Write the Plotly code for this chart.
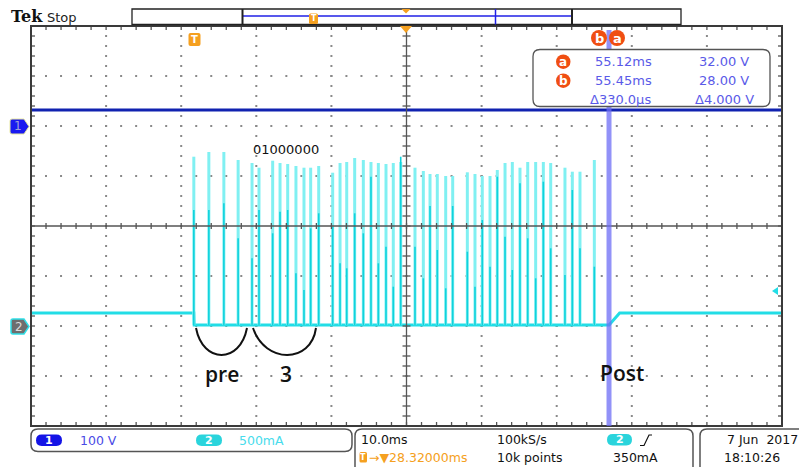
import plotly.graph_objects as go
import numpy as np

# ---------------- data (read from the screen) ----------------
# channel 2 current pulses: time after trigger (ms), peak current (mA), inner (bright core) current (mA)
pulse_t_ms = [0.0, 2.0, 4.0, 5.9, 7.75, 8.68, 10.5, 11.48, 12.5, 13.6, 14.67, 15.56, 16.63,
              18.49, 19.47, 20.36, 21.42, 22.57, 23.59, 24.57, 25.59, 26.56, 27.55, 29.45,
              30.56, 31.45, 32.42, 33.54, 34.47, 36.42, 37.44, 38.41, 39.44, 40.41, 41.44,
              42.41, 43.43, 44.46, 45.52, 46.54, 47.52, 49.42, 50.40, 51.42, 53.33]
pulse_peak_mA = [1693, 1740, 1740, 1660, 1630, 1583, 1653, 1630, 1620, 1600, 1583, 1583, 1600,
                 1533, 1630, 1640, 1680, 1660, 1640, 1630, 1620, 1630, 1640, 1583, 1550,
                 1520, 1520, 1500, 1500, 1537, 1520, 1500, 1500, 1560, 1630, 1640, 1583,
                 1640, 1640, 1640, 1630, 1583, 1543, 1543, 1660]
pulse_core_mA = [1160, 1160, 1227, 877, 677, 1160, 927, 1143, 1160, 527, 360, 977, 1127,
                 993, 627, 577, 1127, 927, 1493, 627, 793, 393, 1693, 793, 477,
                 1200, 760, 377, 1200, 743, 393, 1060, 593, 1493, 893, 560, 1427,
                 877, 477, 1443, 777, 510, 1360, 777, 593]
pre_level_mA = 130
idle_level_mA = 10
post_level_mA = 130
burst_end_ms = 55.3
post_rise_end_ms = 56.7

# channel 1 voltage (flat)
ch1_level_V = 32

# scope settings
time_per_div_ms = 10.0
trig_delay_ms = 28.32
ch1_V_per_div = 100
ch1_offset_div = 2
ch2_mA_per_div = 500
ch2_offset_div = -2
trig_level_mA = 350
cursor_a_ms, cursor_b_ms = 55.12, 55.45

# ---------------- geometry (image pixels) ----------------
IMG_W, IMG_H = 807, 467
BODY = 8                     # page body margin
L, R, T, B = 31, 782, 26, 426
x_left = trig_delay_ms - 5 * time_per_div_ms
x_right = trig_delay_ms + 5 * time_per_div_ms
ms_per_px = (x_right - x_left) / (R - L)
div_per_px = 8.0 / (B - T)

FONT = "DejaVu Sans"


def PX(x):
    return (x - L) / (R - L)


def PY(y):
    return (B - y) / (B - T)


def c1(v):
    return ch1_offset_div + v / ch1_V_per_div


def c2(v):
    return ch2_offset_div + v / ch2_mA_per_div


def p(x, y):
    return f"{PX(x):.5f},{PY(y):.5f}"


def rrect(x0, y0, x1, y1, r):
    return (f"M{p(x0 + r, y0)} L{p(x1 - r, y0)} Q{p(x1, y0)} {p(x1, y0 + r)} "
            f"L{p(x1, y1 - r)} Q{p(x1, y1)} {p(x1 - r, y1)} L{p(x0 + r, y1)} "
            f"Q{p(x0, y1)} {p(x0, y1 - r)} L{p(x0, y0 + r)} Q{p(x0, y0)} {p(x0 + r, y0)} Z")


fig = go.Figure()

# ---------------- graticule dots ----------------
gx, gy = [], []
for k in range(1, 10):
    if k == 5:
        continue
    xv = x_left + k * time_per_div_ms
    for yv in np.arange(-4, 4.001, 0.2):
        gx.append(xv); gy.append(yv)
for yv in [-3, -2, -1, 1, 2, 3]:
    for xv in np.arange(x_left, x_right + 0.001, time_per_div_ms / 5):
        gx.append(xv); gy.append(yv)
fig.add_trace(go.Scatter(x=gx, y=gy, mode="markers",
                         marker=dict(symbol="square", size=2, color="#8a8a8a"),
                         hoverinfo="skip", showlegend=False))

# ---------------- channel 1 ----------------
fig.add_trace(go.Scatter(x=[x_left, x_right], y=[c1(ch1_level_V)] * 2, mode="lines",
                         line=dict(color="#1022b0", width=3), hoverinfo="skip", showlegend=False))

# ---------------- channel 2 ----------------
bx = [x_left, pulse_t_ms[0], pulse_t_ms[0] + 0.05, burst_end_ms, post_rise_end_ms, x_right]
by = [c2(pre_level_mA), c2(pre_level_mA), c2(idle_level_mA), c2(idle_level_mA),
      c2(post_level_mA), c2(post_level_mA)]
fig.add_trace(go.Scatter(x=bx, y=by, mode="lines", line=dict(color="#22dde6", width=3),
                         hoverinfo="skip", showlegend=False))

sx, sy = [], []
for t, pk in zip(pulse_t_ms, pulse_peak_mA):
    sx += [t, t, None]
    sy += [c2(idle_level_mA), c2(pk), None]
fig.add_trace(go.Scatter(x=sx, y=sy, mode="lines", line=dict(color="#80f0f2", width=3),
                         hoverinfo="skip", showlegend=False))
cx, cy = [], []
for t, cv in zip(pulse_t_ms, pulse_core_mA):
    cx += [t, t, None]
    cy += [c2(idle_level_mA), c2(cv), None]
fig.add_trace(go.Scatter(x=cx, y=cy, mode="lines", line=dict(color="#10d2dc", width=1.6),
                         hoverinfo="skip", showlegend=False))

# ---------------- centre cross and frame ticks ----------------
kx, ky = [x_left, x_right, None, trig_delay_ms, trig_delay_ms, None], [0, 0, None, -4, 4, None]
for xv in np.arange(x_left, x_right + 0.001, time_per_div_ms / 5):
    kx += [xv, xv, None]; ky += [-3 * div_per_px, 3 * div_per_px, None]
    kx += [xv, xv, None]; ky += [4, 4 - 4 * div_per_px, None]
    kx += [xv, xv, None]; ky += [-4, -4 + 4 * div_per_px, None]
for yv in np.arange(-4, 4.001, 0.2):
    kx += [trig_delay_ms - 4 * ms_per_px, trig_delay_ms + 4 * ms_per_px, None]; ky += [yv, yv, None]
    kx += [x_left, x_left + 4 * ms_per_px, None]; ky += [yv, yv, None]
    kx += [x_right, x_right - 4 * ms_per_px, None]; ky += [yv, yv, None]
fig.add_trace(go.Scatter(x=kx, y=ky, mode="lines", line=dict(color="#555555", width=1.3),
                         hoverinfo="skip", showlegend=False))

shapes = []
ann = []

# frame
shapes.append(dict(type="rect", xref="paper", yref="paper", x0=0, x1=1, y0=0, y1=1,
                   line=dict(color="#3a3a3a", width=2)))

# cursors
for cv in (cursor_a_ms, cursor_b_ms):
    shapes.append(dict(type="line", xref="x", yref="paper", x0=cv, x1=cv, y0=0, y1=PY(30),
                       line=dict(color="rgba(110,110,245,0.75)", width=2.5)))

# readout box
shapes.append(dict(type="path", xref="paper", yref="paper", path=rrect(533, 49.5, 770, 106.5, 7),
                   fillcolor="white", line=dict(color="#555555", width=1.3)))
RO = "#5a5ae8"
orange_red = "#f04e12"
for (lbl, yy) in (("a", 61.7), ("b", 80.7)):
    shapes.append(dict(type="circle", xref="paper", yref="paper", x0=PX(556), x1=PX(570.5),
                       y0=PY(yy + 7.2), y1=PY(yy - 7.2), fillcolor=orange_red, line=dict(width=0)))
    ann.append(dict(x=PX(563.3), y=PY(yy + 0.5), text=f"<b>{lbl}</b>",
                    font=dict(color="white", size=12, family=FONT)))
rows = [("55.12ms", "32.00 V", 61.7), ("55.45ms", "28.00 V", 80.7), ("Δ330.0µs", "Δ4.000 V", 99.5)]
for i, (a, b, yy) in enumerate(rows):
    ann.append(dict(x=PX(588 if i == 2 else 593), y=PY(yy), text=a, xanchor="left",
                    font=dict(color=RO, size=13, family=FONT)))
    ann.append(dict(x=PX(756 if i == 2 else 751), y=PY(yy), text=b, xanchor="right",
                    font=dict(color=RO, size=13, family=FONT)))

# cursor circles on top
for (lbl, xx) in (("b", 599), ("a", 617)):
    shapes.append(dict(type="circle", xref="paper", yref="paper", x0=PX(xx - 8), x1=PX(xx + 8),
                       y0=PY(46), y1=PY(30), fillcolor=orange_red, line=dict(width=0)))
    ann.append(dict(x=PX(xx), y=PY(38.5), text=f"<b>{lbl}</b>",
                    font=dict(color="white", size=13, family=FONT)))

ORANGE = "#f5a020"
# trigger T in plot
shapes.append(dict(type="path", xref="paper", yref="paper", path=rrect(188.5, 33, 200.5, 46, 2),
                   fillcolor=ORANGE, line=dict(width=0)))
ann.append(dict(x=PX(194.5), y=PY(39.5), text="<b>T</b>", font=dict(color="white", size=10, family=FONT)))
# centre orange triangle
shapes.append(dict(type="path", xref="paper", yref="paper",
                   path=f"M{p(400, 26)} L{p(412, 26)} L{p(406, 33)} Z", fillcolor=ORANGE, line=dict(width=0)))

# channel markers
shapes.append(dict(type="path", xref="paper", yref="paper",
                   path=f"M{p(10, 121)} Q{p(10, 119)} {p(12, 119)} L{p(24, 119)} L{p(29, 126.5)} L{p(24, 134)} L{p(12, 134)} Q{p(10, 134)} {p(10, 132)} Z",
                   fillcolor="#1a1af0", line=dict(color="#e8e8a0", width=1)))
ann.append(dict(x=PX(18), y=PY(126.5), text="1", font=dict(color="#a0a0d8", size=12, family=FONT)))
shapes.append(dict(type="path", xref="paper", yref="paper",
                   path=f"M{p(11, 321)} Q{p(11, 319)} {p(13, 319)} L{p(24, 319)} L{p(29, 326.5)} L{p(24, 334)} L{p(13, 334)} Q{p(11, 334)} {p(11, 332)} Z",
                   fillcolor="#6e6e6e", line=dict(color="#30e0e8", width=1.5)))
ann.append(dict(x=PX(19), y=PY(326.5), text="2", font=dict(color="#dddddd", size=12, family=FONT)))

# trigger level marker (right)
ty = B - (c2(trig_level_mA) + 4) / div_per_px
shapes.append(dict(type="path", xref="paper", yref="paper",
                   path=f"M{p(778, ty - 4)} L{p(772, ty)} L{p(778, ty + 4)} Z",
                   fillcolor="#22dde6", line=dict(width=0)))

# hand-drawn arcs
shapes.append(dict(type="path", xref="paper", yref="paper",
                   path=f"M{p(196, 328)} C{p(203, 364)} {p(240, 364)} {p(247, 328)}",
                   line=dict(color="#111111", width=2)))
shapes.append(dict(type="path", xref="paper", yref="paper",
                   path=f"M{p(253, 328)} C{p(265, 364)} {p(311, 364)} {p(316, 328)}",
                   line=dict(color="#111111", width=2)))
ann.append(dict(x=PX(286), y=PY(149), text="01000000", font=dict(color="#111111", size=13, family=FONT)))
BIG = dict(color="#111111", size=21, family="Open Sans", weight=600)
ann.append(dict(x=PX(222), y=PY(374), text="pre", font=BIG))
ann.append(dict(x=PX(286), y=PY(374), text="3", font=BIG))
ann.append(dict(x=PX(622), y=PY(373), text="Post", font=BIG))

# ---------------- header ----------------
ann.append(dict(x=PX(9), y=PY(16.5), text="<b>Tek</b>", xanchor="left",
                font=dict(color="#111111", size=16, family="DejaVu Serif")))
ann.append(dict(x=PX(44.5), y=PY(17), text="Stop", xanchor="left",
                font=dict(color="#222222", size=13, family=FONT)))
shapes.append(dict(type="rect", xref="paper", yref="paper", x0=PX(132), x1=PX(681), y0=PY(24.5), y1=PY(9),
                   line=dict(color="#222222", width=1.3)))
shapes.append(dict(type="line", xref="paper", yref="paper", x0=PX(243), x1=PX(572), y0=PY(16), y1=PY(16),
                   line=dict(color="#2020e6", width=1.5)))
for xx in (242.5, 572):
    shapes.append(dict(type="line", xref="paper", yref="paper", x0=PX(xx), x1=PX(xx), y0=PY(24.5), y1=PY(9),
                       line=dict(color="#222222", width=2)))
shapes.append(dict(type="line", xref="paper", yref="paper", x0=PX(495.5), x1=PX(495.5), y0=PY(24.5), y1=PY(9),
                   line=dict(color="#2020e6", width=1.5)))
shapes.append(dict(type="path", xref="paper", yref="paper", path=rrect(309, 13.5, 318, 24, 1.5),
                   fillcolor=ORANGE, line=dict(width=0)))
ann.append(dict(x=PX(313.5), y=PY(19), text="<b>T</b>", font=dict(color="white", size=8, family=FONT)))
shapes.append(dict(type="path", xref="paper", yref="paper",
                   path=f"M{p(401.5, 9)} L{p(410.5, 9)} L{p(406, 13.5)} Z", fillcolor=ORANGE, line=dict(width=0)))

# ---------------- bottom status bar ----------------
shapes.append(dict(type="path", xref="paper", yref="paper", path=rrect(31, 429, 352, 451.5, 7),
                   line=dict(color="#555555", width=1.5)))
shapes.append(dict(type="path", xref="paper", yref="paper", path=rrect(355, 429, 693, 485, 7),
                   line=dict(color="#555555", width=1.5)))
shapes.append(dict(type="path", xref="paper", yref="paper", path=rrect(700, 429, 830, 485, 7),
                   line=dict(color="#555555", width=1.5)))
CYAN = "#2ad4dc"
shapes.append(dict(type="path", xref="paper", yref="paper", path=rrect(36, 434.5, 62, 446, 5.7),
                   fillcolor="#1414e6", line=dict(width=0)))
ann.append(dict(x=PX(49), y=PY(440.5), text="<b>1</b>", font=dict(color="white", size=11, family=FONT)))
ann.append(dict(x=PX(78), y=PY(440.5), text="100 V", xanchor="left",
                font=dict(color="#4a4ae6", size=12.5, family=FONT)))
shapes.append(dict(type="path", xref="paper", yref="paper", path=rrect(196, 434.5, 222, 446, 5.7),
                   fillcolor=CYAN, line=dict(width=0)))
ann.append(dict(x=PX(209), y=PY(440.5), text="<b>2</b>", font=dict(color="white", size=11, family=FONT)))
ann.append(dict(x=PX(237), y=PY(440.5), text="500mA", xanchor="left",
                font=dict(color="#48dcec", size=12.5, family=FONT)))

ann.append(dict(x=PX(359), y=PY(440), text="10.0ms", xanchor="left",
                font=dict(color="#111111", size=12.5, family=FONT)))
shapes.append(dict(type="path", xref="paper", yref="paper", path=rrect(359.5, 452, 367, 462.5, 1.5),
                   fillcolor=ORANGE, line=dict(width=0)))
ann.append(dict(x=PX(363.3), y=PY(457.3), text="<b>T</b>", font=dict(color="white", size=8, family=FONT)))
ann.append(dict(x=PX(367), y=PY(457.5), text="→▼28.32000ms", xanchor="left",
                font=dict(color=ORANGE, size=12.5, family=FONT)))
ann.append(dict(x=PX(495), y=PY(440), text="100kS/s", xanchor="left",
                font=dict(color="#111111", size=12.5, family=FONT)))
ann.append(dict(x=PX(495), y=PY(457.5), text="10k points", xanchor="left",
                font=dict(color="#111111", size=12.5, family=FONT)))
shapes.append(dict(type="path", xref="paper", yref="paper", path=rrect(607, 434, 632, 445.5, 5.7),
                   fillcolor=CYAN, line=dict(width=0)))
ann.append(dict(x=PX(619.5), y=PY(440), text="<b>2</b>", font=dict(color="white", size=11, family=FONT)))
shapes.append(dict(type="path", xref="paper", yref="paper",
                   path=f"M{p(640, 445.5)} L{p(644, 445.5)} L{p(649, 435)} L{p(652, 435)}",
                   line=dict(color="#111111", width=1.2)))
ann.append(dict(x=PX(611), y=PY(457.5), text="350mA", xanchor="left",
                font=dict(color="#111111", size=12.5, family=FONT)))
ann.append(dict(x=PX(800), y=PY(440), text="7 Jun  2017", xanchor="right",
                font=dict(color="#111111", size=12.5, family=FONT)))
ann.append(dict(x=PX(722), y=PY(457.5), text="18:10:26", xanchor="left",
                font=dict(color="#111111", size=12.5, family=FONT)))

for a in ann:
    a.setdefault("xref", "paper")
    a.setdefault("yref", "paper")
    a.setdefault("showarrow", False)
    a.setdefault("xanchor", "center")
    a.setdefault("yanchor", "middle")

fig.update_layout(
    width=IMG_W - BODY, height=IMG_H - BODY,
    margin=dict(l=L - BODY, r=IMG_W - R, t=T - BODY, b=IMG_H - B, pad=0),
    paper_bgcolor="white", plot_bgcolor="white",
    xaxis=dict(range=[x_left, x_right], showgrid=False, zeroline=False, showticklabels=False,
               showline=False, fixedrange=True),
    yaxis=dict(range=[-4, 4], showgrid=False, zeroline=False, showticklabels=False,
               showline=False, fixedrange=True),
    shapes=shapes, annotations=ann, showlegend=False,
)
fig.write_html("out.html")
